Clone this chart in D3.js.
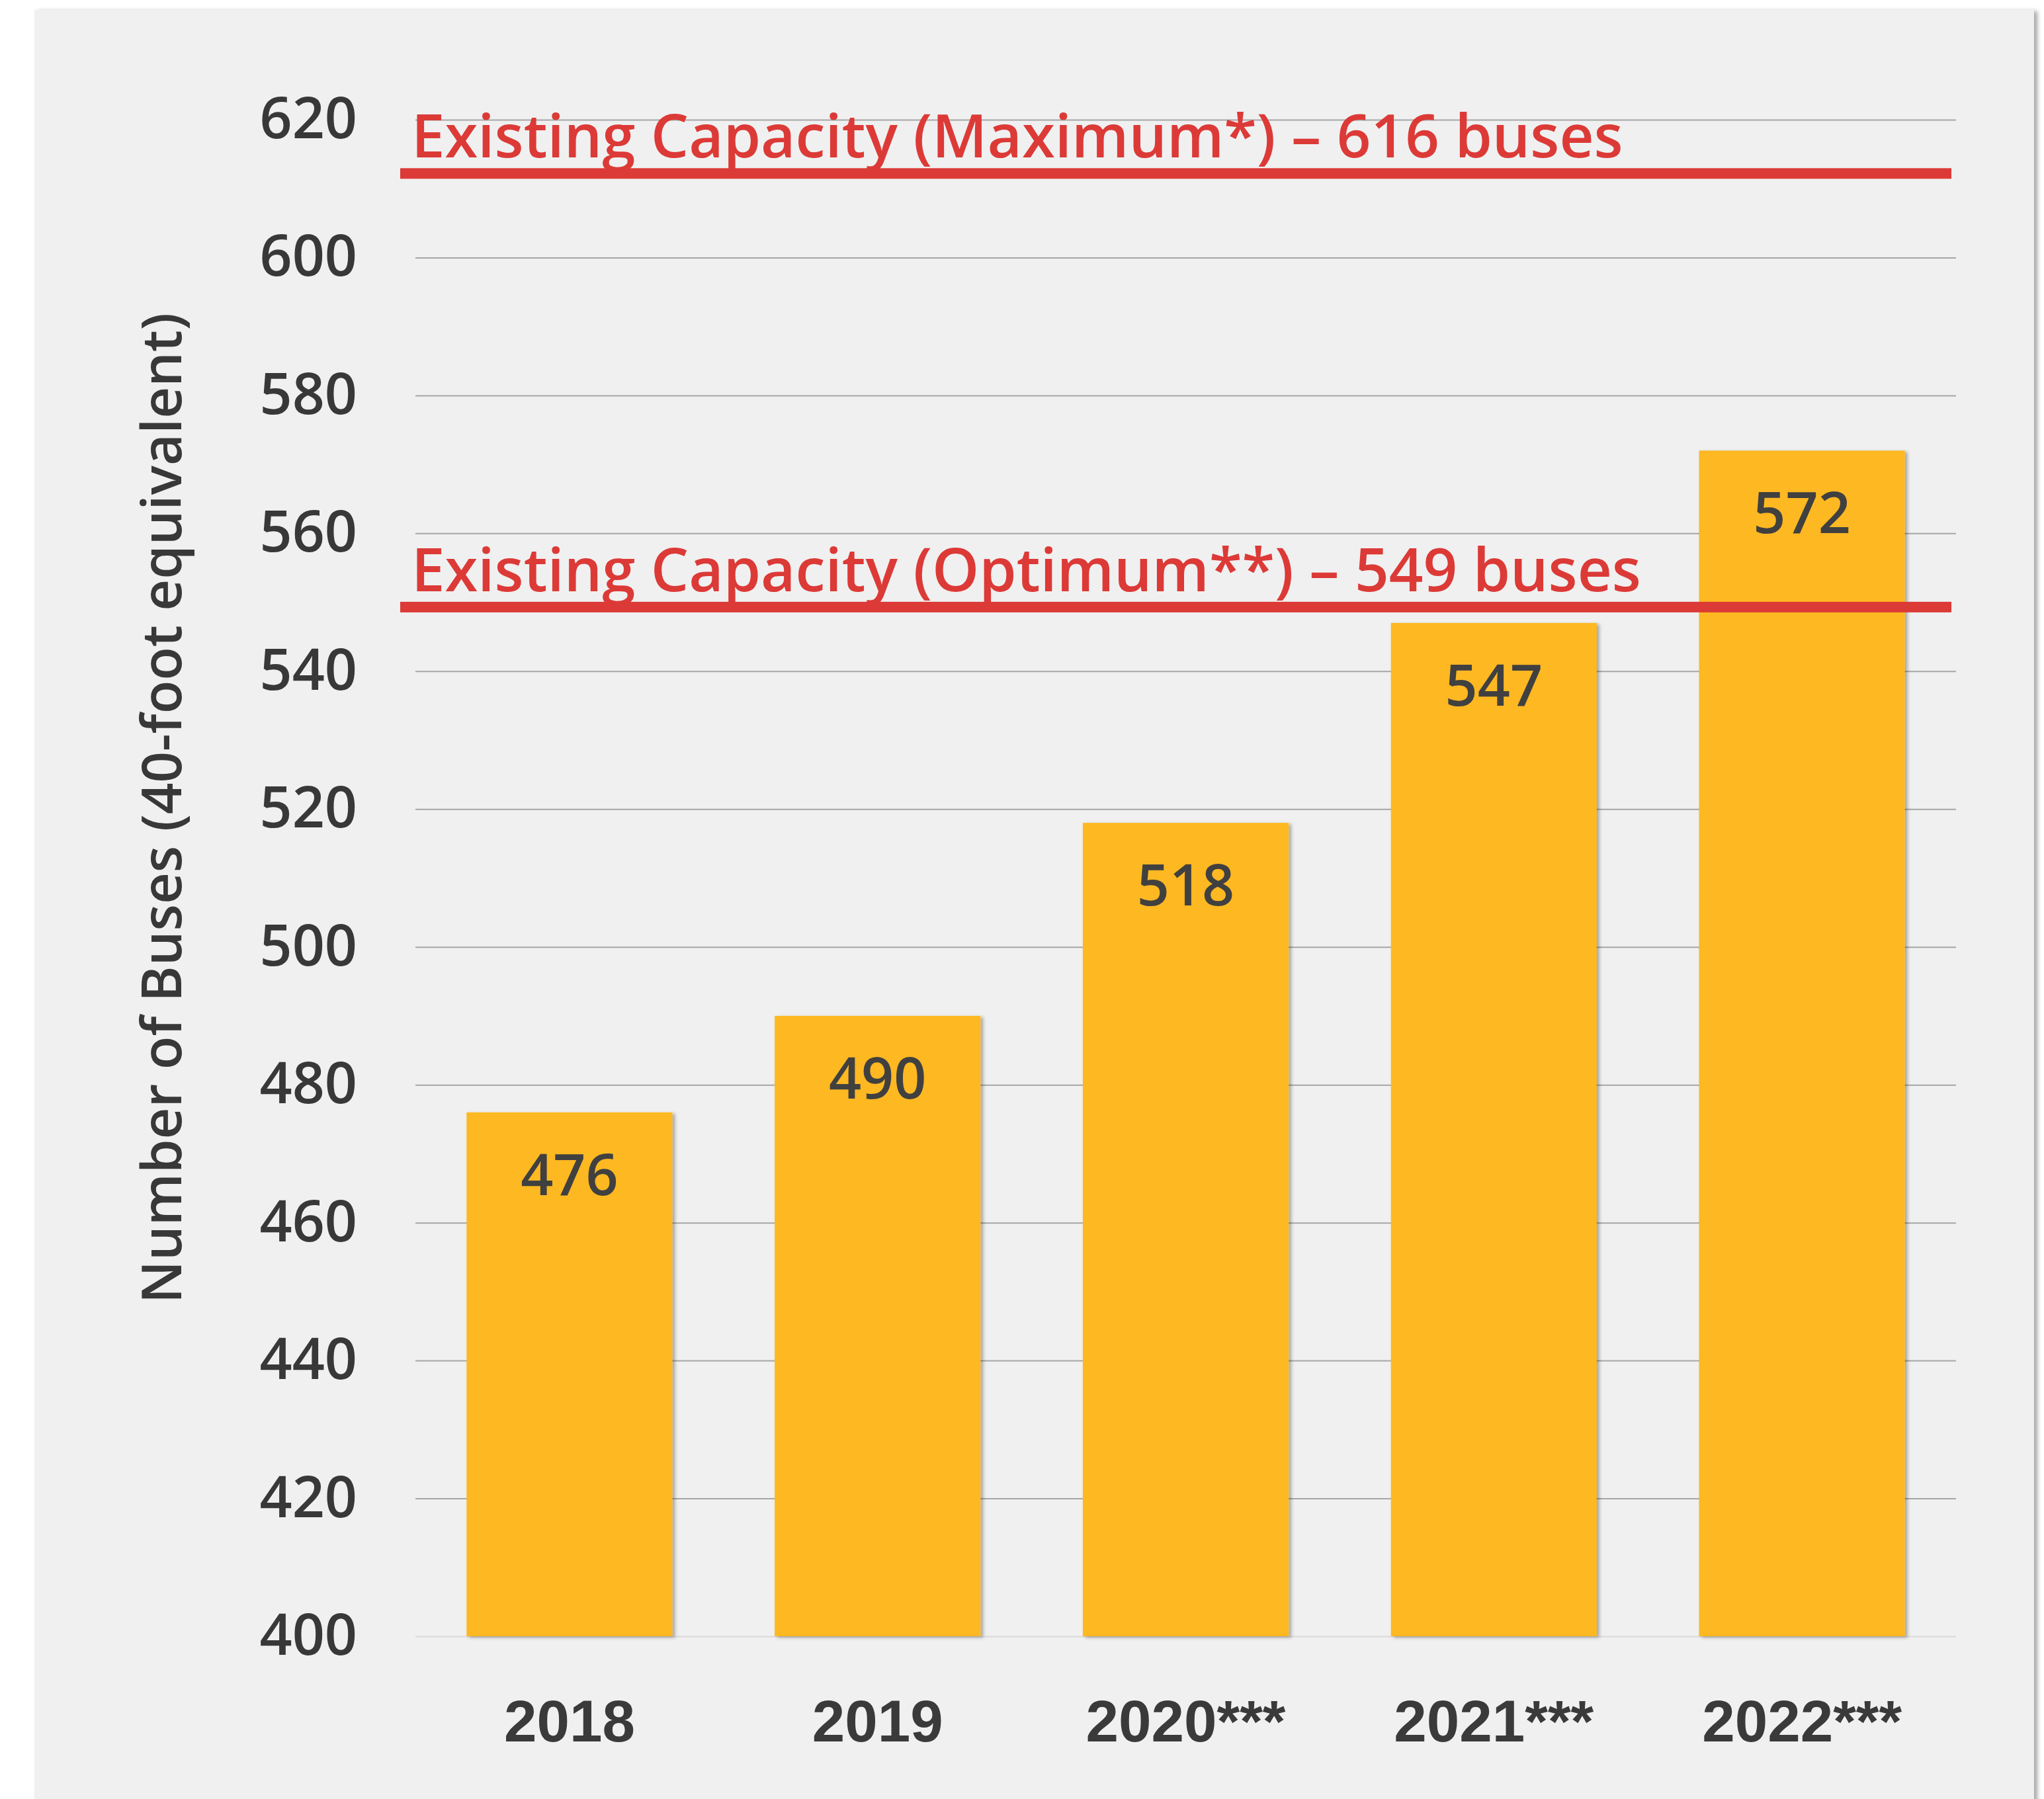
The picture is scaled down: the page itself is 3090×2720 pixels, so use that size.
<!DOCTYPE html>
<html>
<head>
<meta charset="utf-8">
<script src="https://cdn.jsdelivr.net/npm/d3@7"></script>
<style>
body { margin: 0; background: #fff; }
text { font-family: 'Open Sans', 'Noto Sans', sans-serif; }
</style>
</head>
<body>
<div id="graph"></div>
<script>
var years = ['2018', '2019', '2020***', '2021***', '2022***']
var buses = [476, 490, 518, 547, 572]
var yTicks = [400, 420, 440, 460, 480, 500, 520, 540, 560, 580, 600, 620]

// the two capacity lines, as labelled and as placed in the picture
var capacityNames = ['Maximum*', 'Optimum**']
var capacityBuses = [616, 549]
var capacityDrawnAt = [612.2, 549.3]

var yTitle = 'Number of Buses (40-foot equivalent)'

var width = 3090, height = 2720

var svg = d3.select('#graph').append('svg')
  .attr('width', width).attr('height', height)

var defs = svg.append('defs')
defs.append('filter').attr('id', 'panelShadow')
  .attr('x', '-5%').attr('y', '-5%').attr('width', '110%').attr('height', '110%')
  .append('feDropShadow')
  .attr('dx', 5).attr('dy', 2).attr('stdDeviation', 3)
  .attr('flood-color', '#000').attr('flood-opacity', 0.35)
defs.append('filter').attr('id', 'barShadow')
  .attr('x', '-10%').attr('y', '-5%').attr('width', '120%').attr('height', '110%')
  .append('feDropShadow')
  .attr('dx', 4).attr('dy', 2).attr('stdDeviation', 2.5)
  .attr('flood-color', '#000').attr('flood-opacity', 0.3)

svg.append('rect')
  .attr('x', 52).attr('y', 15)
  .attr('width', 3023).attr('height', height + 20)
  .attr('fill', '#f0f0f0')
  .attr('filter', 'url(#panelShadow)')

var x = d3.scaleBand().domain(years)
  .range([628, 2957])
  .paddingInner(0.332).paddingOuter(0.166)

var y = d3.scaleLinear().domain([400, 620]).range([2474, 181])

var plotW = x.range()[1] - x.range()[0]

// y axis: gridlines + labels
var yAxis = svg.append('g')
  .attr('transform', `translate(${x.range()[0]},0)`)
  .call(d3.axisLeft(y).tickValues(yTicks).tickSize(-plotW).tickPadding(88))

yAxis.select('.domain').remove()
yAxis.selectAll('.tick line')
  .attr('stroke', d => d == 400 ? '#d9d9d9' : '#a6a6a6')
  .attr('stroke-width', 2)
yAxis.selectAll('.tick text')
  .attr('fill', '#383838')
  .style('font-size', '86px')
  .style('font-weight', 600)

// x axis labels
var xAxis = svg.append('g')
  .attr('transform', `translate(0,${y(400)})`)
  .call(d3.axisBottom(x).tickSize(0).tickPadding(96))

xAxis.select('.domain').remove()
xAxis.selectAll('.tick text')
  .attr('fill', '#3a3a3a')
  .style('font-family', "'Liberation Sans', Arial, sans-serif")
  .style('font-size', '89px')
  .style('font-weight', 700)

var data = years.map((d, i) => ({year: d, value: buses[i]}))

svg.append('g').selectAll('rect')
  .data(data).join('rect')
  .attr('x', d => x(d.year))
  .attr('y', d => y(d.value))
  .attr('width', x.bandwidth())
  .attr('height', d => y(400) - y(d.value))
  .attr('fill', '#fdb823')
  .attr('filter', 'url(#barShadow)')

svg.append('g').selectAll('text')
  .data(data).join('text')
  .attr('x', d => x(d.year) + x.bandwidth()/2)
  .attr('y', d => y(d.value) + 125)
  .attr('text-anchor', 'middle')
  .attr('fill', '#404040')
  .style('font-size', '86px')
  .style('font-weight', 600)
  .text(d => d.value)

// capacity lines
var caps = capacityNames.map((d, i) => ({name: d, buses: capacityBuses[i], at: capacityDrawnAt[i]}))
var capG = svg.append('g').selectAll('g')
  .data(caps).join('g')

capG.append('rect')
  .attr('x', x.range()[0] - 23)
  .attr('y', d => y(d.at) - 8)
  .attr('width', plotW + 16)
  .attr('height', 16)
  .attr('fill', '#dc3a37')

capG.append('text')
  .attr('x', x.range()[0] - 6)
  .attr('y', d => y(d.at) - 24)
  .attr('fill', '#dc3a37')
  .style('font-size', '90.5px')
  .style('font-weight', 600)
  .text(d => `Existing Capacity (${d.name}) \u2013 ${d.buses} buses`)

svg.append('text')
  .attr('transform', 'translate(274,1222) rotate(-90)')
  .attr('text-anchor', 'middle')
  .attr('fill', '#383838')
  .style('font-size', '83px')
  .style('font-weight', 600)
  .text(yTitle)
</script>
</body>
</html>
